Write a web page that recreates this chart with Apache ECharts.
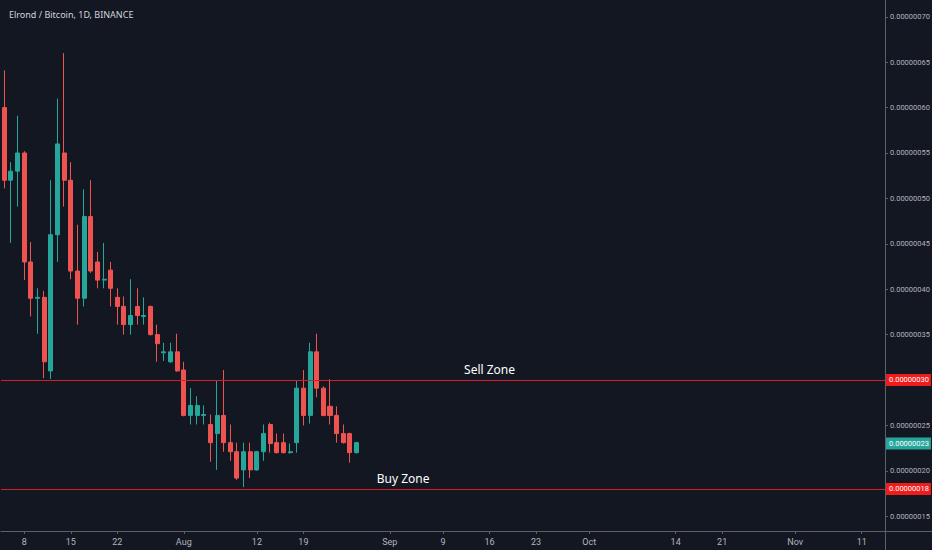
<!DOCTYPE html>
<html>
<head>
<meta charset="utf-8">
<script src="https://cdn.jsdelivr.net/npm/echarts@6/dist/echarts.min.js"></script>
<style>
html,body{margin:0;padding:0;background:#131722;}
#c{width:932px;height:550px;}
</style>
</head>
<body>
<div id="c"></div>
<script>
// Prices in satoshi (1e-8 BTC)
const opens  = [60,52.0,53.0,55.0,43,39.0,39.1,31.0,46,55,52,42,39,48,43,41.0,42.1,39.1,38.1,36.1,38.1,37.0,38.1,35.0,33.0,32.0,33.1,31.1,26.1,26.1,26.1,25.1,24.1,26.1,23.1,22.1,20.1,22.1,20.1,22.1,25.1,23.1,23.1,22.0,23.1,29.1,26.1,33.1,29.1,27.1,26.1,24.1,24.1,22.0];
const highs  = [64.1,54.0,59.1,55.2,45.2,40.1,39.8,52.0,61,66,54,47.1,51,52,44.1,45.1,43.0,40.1,39.2,41.1,40.1,39.1,38.2,36.1,34.1,34.1,35.1,32.0,29.1,28.2,27.2,26.2,30.0,31.1,25.1,23.1,23.1,23.1,22.2,25.1,25.3,24.1,24.1,23.0,30.0,31.1,34.1,35.1,29.3,30.1,27.1,25.1,24.2,23.2];
const lows   = [51.1,45.1,49.1,41.0,37.0,35.1,30.2,30.1,43,49.1,41.1,36.1,38.1,41.8,40.1,40.1,38.1,36.1,35.0,35.0,36.1,36.1,34.9,32.0,32.1,31.9,30.9,26.0,25.1,25.1,25.1,21.0,20.1,22.1,21.1,19.0,18.2,19.2,20.0,21.1,22.0,21.9,21.9,21.9,22.0,25.0,25.2,28.1,26.0,25.1,23.1,23.0,20.9,21.9];
const closes = [52.0,53.0,55.0,43.0,39,39.1,32.0,46.0,56,52,42,39,48,42,41,41.1,40.1,38.1,36.1,37.1,37.1,37.1,35.0,34.0,33.1,33.1,31.0,26.1,27.2,27.2,26.2,23.1,26.1,23.1,22.1,19.2,22.1,20.1,22.1,24.1,23.0,22.0,22.0,22.1,29.1,26.1,33.1,29.1,26.1,26.1,24.1,23.1,22.0,23.1];

const firstDate = '2019-07-05';
const dayCount = 133;

const xTickDates  = ['2019-07-08','2019-07-15','2019-07-22','2019-08-01','2019-08-12','2019-08-19','2019-09-01','2019-09-09','2019-09-16','2019-09-23','2019-10-01','2019-10-14','2019-10-21','2019-11-01','2019-11-11'];
const xTickLabels = ['8','15','22','Aug','12','19','Sep','9','16','23','Oct','14','21','Nov','11'];

const yTickValues = [15,20,25,35,40,45,50,55,60,65,70];

const sellZone = 30;
const buyZone = 18;
const lastPrice = 23;

// build categories
const categories = [];
(function(){
  const d0 = new Date(firstDate + 'T00:00:00Z');
  for (let i = 0; i < dayCount; i++) {
    const d = new Date(d0.getTime() + i * 86400000);
    categories.push(d.toISOString().slice(0,10));
  }
})();
const tickMap = {};
xTickDates.forEach((d,i)=>{ tickMap[d] = xTickLabels[i]; });

const candleData = opens.map((o,i)=>[o, closes[i], lows[i], highs[i]]);
const fmt = v => (v/1e8).toFixed(8);

const chart = echarts.init(document.getElementById('c'), null, {renderer:'svg'});
const axisCol = '#5d606b';
const txtCol = '#b2b5be';
const fontFam = "Roboto,sans-serif";
const yFont = 7.5;

chart.setOption({
  backgroundColor: '#131722',
  animation: false,
  title: {
    text: 'Elrond / Bitcoin, 1D, BINANCE',
    left: 4, top: 5,
    textStyle: {color:'#d1d4dc', fontSize: 9, fontWeight:'normal', fontFamily:"'Noto Sans',sans-serif"}
  },
  grid: {left: 1, right: 47, top: 0, bottom: 19, containLabel: false, outerBoundsMode: 'none'},
  xAxis: {
    type: 'category',
    data: categories,
    boundaryGap: true,
    axisLine: {show: true, lineStyle: {color: axisCol}},
    axisTick: {show: true, alignWithLabel: true, length: 3, lineStyle:{color: axisCol},
      interval: (idx, val) => tickMap[val] !== undefined},
    axisLabel: {
      interval: (idx, val) => tickMap[val] !== undefined,
      formatter: v => tickMap[v] || '',
      color: txtCol, fontSize: 9, margin: 6, fontFamily: fontFam
    },
    splitLine: {show: false}
  },
  yAxis: {
    type: 'value',
    position: 'right',
    min: 13.37, max: 71.85,
    scale: true,
    axisLine: {show: true, lineStyle: {color: axisCol}},
    axisTick: {show: true, length: 3, lineStyle:{color: axisCol}, customValues: yTickValues},
    axisLabel: {color: txtCol, fontSize: yFont, margin: 5, fontFamily: fontFam,
      customValues: yTickValues, formatter: v => fmt(v)},
    splitLine: {show: false}
  },
  graphic: [
    {type:'line', shape:{x1:885, y1:531.5, x2:932, y2:531.5}, style:{stroke: axisCol, lineWidth:1}, silent:true},
    {type:'line', shape:{x1:885.5, y1:531, x2:885.5, y2:550}, style:{stroke: axisCol, lineWidth:1}, silent:true}
  ],
  series: [{
    type: 'candlestick',
    data: candleData,
    barWidth: '68%',
    itemStyle: {
      color: '#26a69a', color0: '#ef5350',
      borderColor: '#26a69a', borderColor0: '#ef5350', borderWidth: 1
    },
    markLine: {
      silent: true,
      symbol: ['none','none'],
      data: [
        {yAxis: sellZone, lineStyle:{color:'#d41e24', width:1, type:'solid'},
          label:{show:true, position:'end', distance:1, formatter: ()=>fmt(sellZone),
            backgroundColor:'#f01c1c', color:'#ffffff', fontSize:yFont, padding:[2,2,2,3], fontFamily: fontFam}},
        {yAxis: buyZone, lineStyle:{color:'#d41e24', width:1, type:'solid'},
          label:{show:true, position:'end', distance:1, formatter: ()=>fmt(buyZone),
            backgroundColor:'#f01c1c', color:'#ffffff', fontSize:yFont, padding:[2,2,2,3], fontFamily: fontFam}},
        {yAxis: lastPrice, lineStyle:{color:'rgba(0,0,0,0)', width:0},
          label:{show:true, position:'end', distance:1, formatter: ()=>fmt(lastPrice),
            backgroundColor:'#26a69a', color:'#ffffff', fontSize:yFont, padding:[2,2,2,3], fontFamily: fontFam}}
      ]
    },
    markPoint: {
      silent: true,
      symbol: 'circle', symbolSize: 0,
      data: [
        {coord: ['2019-09-16', sellZone], label:{show:true, position:'top', distance:4, formatter:'Sell Zone', color:'#ffffff', fontSize:12, fontFamily:"'Noto Sans',sans-serif"}},
        {coord: ['2019-09-03', buyZone], label:{show:true, position:'top', distance:4, formatter:'Buy Zone', color:'#ffffff', fontSize:12, fontFamily:"'Noto Sans',sans-serif"}}
      ]
    }
  }]
});
</script>
</body>
</html>
